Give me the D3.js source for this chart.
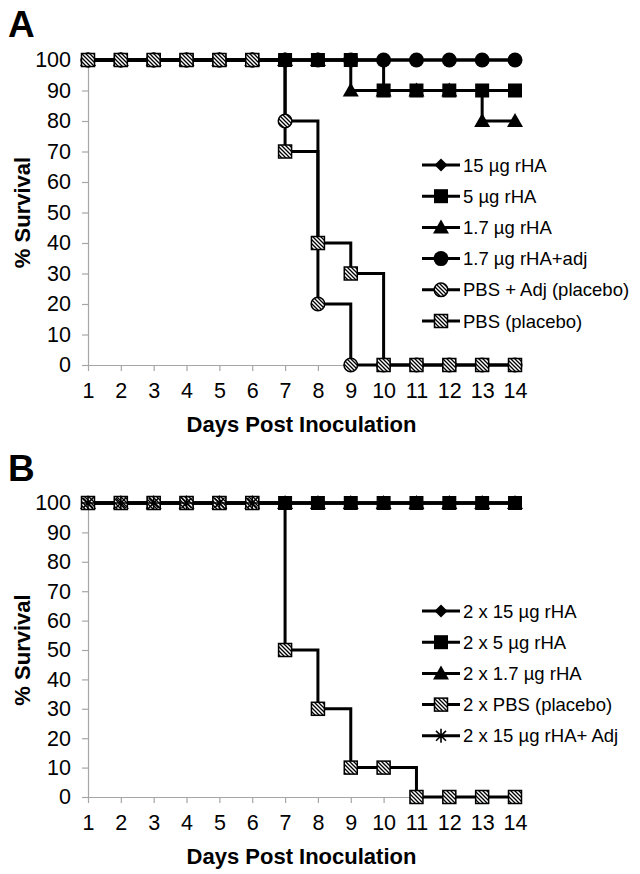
<!DOCTYPE html>
<html><head><meta charset="utf-8">
<script src="https://cdn.jsdelivr.net/npm/d3@7"></script>
<style>
body{margin:0;background:#fff}
svg text{font-family:"Liberation Sans",Arial,sans-serif;fill:#000}
</style>
</head><body>
<svg id="chart" width="640" height="874"></svg>
<script>
// ---------- data ----------
const days = [1,2,3,4,5,6,7,8,9,10,11,12,13,14];
const yTickValues = [0,10,20,30,40,50,60,70,80,90,100];
const xTitle = "Days Post Inoculation";
const yTitle = "% Survival";

// Panel A
const namesA = ["15 µg rHA","5 µg rHA","1.7 µg rHA","1.7 µg rHA+adj","PBS + Adj (placebo)","PBS (placebo)"];
const markersA = ["diamond","square","triangle","circle","hatchCircle","hatchSquare"];
const a15   = [100,100,100,100,100,100,100,100,100,100,100,100,100,100];
const a5    = [100,100,100,100,100,100,100,100,100,90,90,90,90,90];
const a17   = [100,100,100,100,100,100,100,100,90,90,90,90,80,80];
const a17adj= [100,100,100,100,100,100,100,100,100,100,100,100,100,100];
const aPbsAdj=[100,100,100,100,100,100,80,20,0,0,0,0,0,0];
const aPbs  = [100,100,100,100,100,100,70,40,30,0,0,0,0,0];
const valuesA = [a15,a5,a17,a17adj,aPbsAdj,aPbs];
const drawOrderA = [0,3,2,1,4,5];

// Panel B
const namesB = ["2 x 15 µg rHA","2 x 5 µg rHA","2 x 1.7 µg rHA","2 x PBS (placebo)","2 x 15 µg rHA+ Adj"];
const markersB = ["diamond","square","triangle","hatchSquare","asterisk"];
const b15   = [100,100,100,100,100,100,100,100,100,100,100,100,100,100];
const b5    = [100,100,100,100,100,100,100,100,100,100,100,100,100,100];
const b17   = [100,100,100,100,100,100,100,100,100,100,100,100,100,100];
const bPbs  = [100,100,100,100,100,100,50,30,10,10,0,0,0,0];
const bAdj  = [100,100,100,100,100,100,100,100,100,100,100,100,100,100];
const valuesB = [b15,b5,b17,bPbs,bAdj];
const drawOrderB = [0,2,1,3,4];

// ---------- drawing ----------
const svg = d3.select("#chart");
const defs = svg.append("defs");
const pat = defs.append("pattern").attr("id","hatch").attr("patternUnits","userSpaceOnUse")
  .attr("width",4).attr("height",4);
pat.append("rect").attr("width",4).attr("height",4).attr("fill","#fff");
pat.append("path").attr("d","M-1,3 l2,2 M0,0 l4,4 M3,-1 l2,2").attr("stroke","#000").attr("stroke-width",1.3);

function marker(g, type, x, y){
  if(type==="square"){
    g.append("rect").attr("x",x-7).attr("y",y-7).attr("width",14).attr("height",14).attr("fill","#000");
  } else if(type==="hatchSquare"){
    g.append("rect").attr("x",x-6.5).attr("y",y-6.5).attr("width",13).attr("height",13)
      .attr("fill","url(#hatch)").attr("stroke","#000").attr("stroke-width",1.5);
  } else if(type==="circle"){
    g.append("circle").attr("cx",x).attr("cy",y).attr("r",7.5).attr("fill","#000");
  } else if(type==="hatchCircle"){
    g.append("circle").attr("cx",x).attr("cy",y).attr("r",6.8)
      .attr("fill","url(#hatch)").attr("stroke","#000").attr("stroke-width",1.5);
  } else if(type==="triangle"){
    g.append("path").attr("d",`M${x},${y-8} L${x+8},${y+6} L${x-8},${y+6} Z`).attr("fill","#000");
  } else if(type==="diamond"){
    g.append("path").attr("d",`M${x},${y-6.5} L${x+6.5},${y} L${x},${y+6.5} L${x-6.5},${y} Z`).attr("fill","#000");
  } else if(type==="asterisk"){
    const r=7, d=r*0.7071;
    g.append("path").attr("d",`M${x},${y-r} L${x},${y+r} M${x-r},${y} L${x+r},${y} M${x-d},${y-d} L${x+d},${y+d} M${x-d},${y+d} L${x+d},${y-d}`)
      .attr("stroke","#000").attr("stroke-width",1.6).attr("fill","none");
  }
}

function panel(opts){
  const x = d3.scaleLinear().domain([1,14]).range([88,515]);
  const y = d3.scaleLinear().domain([0,100]).range([opts.bottom, opts.top]);
  const g = svg.append("g");

  // y axis
  const ya = g.append("g").attr("transform","translate(88,0)")
    .call(d3.axisLeft(y).tickValues(yTickValues).tickSize(6).tickSizeOuter(0).tickPadding(11));
  ya.select(".domain").attr("stroke","#a6a6a6").attr("stroke-width",1.2);
  ya.selectAll(".tick line").attr("stroke","#a6a6a6").attr("stroke-width",1.2);
  ya.selectAll(".tick text").attr("font-size",21.5).attr("font-family","Liberation Sans, Arial, sans-serif").attr("fill","#000");

  // x axis
  const xa = g.append("g").attr("transform",`translate(0,${opts.bottom})`)
    .call(d3.axisBottom(x).tickValues(days).tickFormat(d3.format("d")).tickSize(6).tickSizeOuter(0).tickPadding(12));
  xa.select(".domain").attr("stroke","#a6a6a6").attr("stroke-width",1.2);
  xa.selectAll(".tick line").attr("stroke","#a6a6a6").attr("stroke-width",1.2);
  xa.selectAll(".tick text").attr("font-size",21.5).attr("font-family","Liberation Sans, Arial, sans-serif").attr("fill","#000");

  // lines
  const line = d3.line().curve(d3.curveStepAfter).x((d,i)=>x(days[i])).y(d=>y(d));
  opts.order.forEach(k=>{
    g.append("path").datum(opts.values[k]).attr("d",line)
      .attr("fill","none").attr("stroke","#000").attr("stroke-width",3);
  });
  // markers
  opts.order.forEach(k=>{
    const mg = g.append("g");
    opts.values[k].forEach((v,i)=>marker(mg, opts.markers[k], x(days[i]), y(v)));
  });

  // legend
  const lg = g.append("g");
  opts.names.forEach((n,i)=>{
    const ly = opts.legendTop + i*31.2;
    lg.append("line").attr("x1",422).attr("x2",460).attr("y1",ly).attr("y2",ly)
      .attr("stroke","#000").attr("stroke-width",3);
    marker(lg, opts.markers[i], 441, ly);
    lg.append("text").attr("x",463).attr("y",ly+6.5).attr("font-size",18.5).text(n);
  });

  // titles
  g.append("text").attr("x",301.5).attr("y",opts.bottom+67).attr("text-anchor","middle")
    .attr("font-size",22).attr("font-weight","bold").text(xTitle);
  g.append("text").attr("transform",`translate(30,${(opts.top+opts.bottom)/2}) rotate(-90)`)
    .attr("text-anchor","middle").attr("font-size",22).attr("font-weight","bold").text(yTitle);
  g.append("text").attr("x",8).attr("y",opts.labelY).attr("font-size",37).attr("font-weight","bold").text(opts.label);
}

panel({top:60,bottom:365,values:valuesA,markers:markersA,names:namesA,order:drawOrderA,legendTop:165,label:"A",labelY:37});
panel({top:503,bottom:797,values:valuesB,markers:markersB,names:namesB,order:drawOrderB,legendTop:611,label:"B",labelY:481});
</script>
</body></html>
